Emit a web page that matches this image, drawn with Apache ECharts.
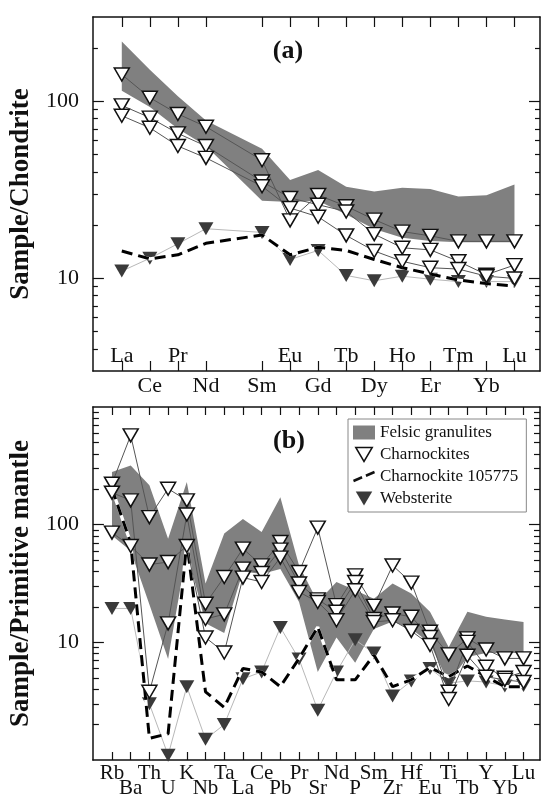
<!DOCTYPE html>
<html>
<head>
<meta charset="utf-8">
<script src="https://cdn.jsdelivr.net/npm/echarts@6/dist/echarts.min.js"></script>
<style>
  html, body { margin: 0; padding: 0; background: #fff; }
  #chart { width: 541px; height: 802px; }
</style>
</head>
<body>
<div id="chart"></div>
<script>
// ---- Data: (a) chondrite-normalised REE ----
const ree = ['La', 'Ce', 'Pr', 'Nd', '', 'Sm', 'Eu', 'Gd', 'Tb', 'Dy', 'Ho', 'Er', 'Tm', 'Yb', 'Lu'];
const reeFelsicUpper = [218, 151, 107, 78, null, 54, 36, 41, 33, 31, 32.5, 32, 29, 29.5, 34];
const reeFelsicLower = [115, 93, 70, 56, null, 27.5, 27, 27.5, 23, 19, 17, 16.3, 16, 16, 16];
const reeCharnA = [142, 105, 85, 72, null, 46.5, 21.3, 29.6, 25.6, 21.5, 18.4, 17.4, 16.2, 16.2, 16.2];
const reeCharnB = [95, 81, 66, 56, null, 35.3, 28.5, 26.1, 23.9, 17.8, 14.9, 14.5, 12.5, 10.5, 11.9];
const reeCharnC = [83, 71, 56, 48, null, 33.2, 25, 22.3, 17.5, 14.3, 12.5, 11.5, 11.3, 10.3, 10.0];
const reeCharn105775 = [14.3, 12.9, 13.6, 15.8, null, 17.6, 13.6, 15.0, 14.4, 12.8, 11.5, 10.6, 9.8, 9.35, 9.05];
const reeWebsterite = [11.0, 13.0, 15.7, 19.1, null, 18.2, 12.8, 14.4, 10.4, 9.7, 10.3, 9.9, 9.6, 9.6, 9.6];

// ---- Data: (b) primitive-mantle-normalised spider ----
const spider = ['Rb', 'Ba', 'Th', 'U', 'K', 'Nb', 'Ta', 'La', 'Ce', 'Pb', 'Pr', 'Sr', 'Nd', 'P', 'Sm', 'Zr', 'Hf', 'Eu', 'Ti', 'Tb', 'Y', 'Yb', 'Lu'];
const spFelsicUpper = [280, 318, 216, 76, 230, 31.6, 84, 112, 86.5, 171, 45, 22, 32.6, 27.7, 23.5, 31.6, 26, 18.2, 9.1, 18.2, 16.5, 15.6, 14.9];
const spFelsicLower = [81, 60, 21, 7.2, 60, 14.5, 12, 40, 38, 42, 22, 5.6, 11, 6.7, 13, 15, 13, 9.8, 4.5, 7.5, 8.1, 8.1, 8.1];
const spCharn1 = [223, 574, 116, 202, 161, 21.3, 35.9, 62.6, 45.1, 71.2, 39.6, 94.3, 20.7, 37.1, 20.4, 45, 32.2, 12.3, 7.9, 10.8, 8.7, 7.3, 7.3];
const spCharn2 = [187, 161, 3.8, 14.5, 122, 15.8, 17.3, 42.3, 38.8, 61.4, 31.6, 23.2, 18.2, 32.6, 15.8, 17.6, 16.5, 11.1, 3.8, 10.1, 6.2, 5.0, 5.6];
const spCharn3 = [85.5, 65.8, 45.8, 48.1, 65.8, 11.0, 8.2, 35.5, 32.6, 52.5, 26.8, 22, 15.4, 27.7, 14.9, 15.4, 12.5, 9.5, 3.3, 7.7, 5.1, 4.8, 4.6];
const spCharn105775 = [202, 70, 1.53, 1.67, 71, 3.8, 2.8, 6.0, 5.6, 4.2, 7.3, 13.5, 4.8, 4.8, 7.8, 4.2, 4.8, 6.1, 5.1, 6.3, 5.1, 4.2, 4.2];
const spWebsterite = [19.4, 19.4, 3.0, 1.1, 4.2, 1.5, 2.0, 4.9, 5.6, 13.4, 7.2, 2.65, 5.6, 10.5, 8.1, 3.5, 4.7, 6.0, 4.5, 4.7, 4.6, 4.25, 4.3];

// ---- Tick values ----
const yLabelsA = [10, 100];
const yMinorA = [4, 5, 6, 7, 8, 9, 20, 30, 40, 50, 60, 70, 80, 90, 200];
const yLabelsB = [10, 100];
const yMinorB = [2, 3, 4, 5, 6, 7, 8, 9, 20, 30, 40, 50, 60, 70, 80, 90, 200, 300, 400, 500, 600, 700, 800, 900];

const FONT = 'Liberation Serif';
const INK = '#111';
const BAND = '#808080';
const TRI = 'path://M0,0L20,0L10,17Z';
const DASH_ICON = 'path://M0,15L9,11L10,13.5L1,17.5Z M13,9.5L22,5.5L23,8L14,12Z';

// [index, value] pairs, skipping missing elements
function pairs(vals) {
    return vals.map((v, i) => (v == null ? null : [i, v])).filter(p => p);
}

function xAxis(grid, names, ext, pos, o) {
    const idx = names.map((n, i) => i).filter(i => names[i] !== '');
    return {
        gridIndex: grid, type: 'value', position: pos, offset: o.offset || 0, min: ext[0], max: ext[1],
        splitLine: { show: false },
        axisLine: { show: !!o.line, onZero: false, lineStyle: { color: INK, width: 1.5 } },
        axisTick: { show: !!o.tick, inside: true, length: o.tick || 0, customValues: idx, lineStyle: { color: INK, width: 1.2 } },
        axisLabel: {
            show: !!o.labels, margin: o.margin || 0, hideOverlap: false,
            customValues: o.labels ? idx.filter(i => i % 2 === o.labels - 1) : undefined,
            formatter: v => names[Math.round(v)],
            fontFamily: FONT, fontSize: o.fontSize, color: INK
        }
    };
}

function yAxis(grid, ext, pos, ticks, len, o) {
    return Object.assign({
        gridIndex: grid, type: 'log', logBase: 10, position: pos, min: ext[0], max: ext[1],
        splitLine: { show: false },
        axisLine: { show: !!o.line, onZero: false, lineStyle: { color: INK, width: 1.5 } },
        axisTick: { show: true, inside: true, length: len, customValues: ticks, lineStyle: { color: INK, width: 1.2 } },
        axisLabel: o.labels ? { customValues: o.labels, margin: 14, fontFamily: FONT, fontSize: 22, color: INK } : { show: false }
    }, o.name ? {
        name: o.name, nameLocation: 'middle', nameGap: 56, nameRotate: 90,
        nameTextStyle: { fontFamily: FONT, fontWeight: 'bold', fontSize: 27, color: INK }
    } : {});
}

// felsic granulite field: polygon between upper and lower envelopes
function bandSeries(xi, yi, upper, lower) {
    return {
        type: 'custom', name: 'Felsic granulites', xAxisIndex: xi, yAxisIndex: yi, silent: true, z: 1,
        itemStyle: { color: BAND },
        data: [[0, 10]],
        renderItem: (params, api) => {
            const top = [], bottom = [];
            upper.forEach((u, i) => { if (u != null) top.push(api.coord([i, u])); });
            lower.forEach((l, i) => { if (l != null) bottom.push(api.coord([i, l])); });
            return { type: 'polygon', shape: { points: top.concat(bottom.reverse()) }, style: { fill: BAND } };
        }
    };
}

function panelSeries(xi, yi, d) {
    const base = { type: 'line', xAxisIndex: xi, yAxisIndex: yi, connectNulls: true, silent: true };
    const list = [
        bandSeries(xi, yi, d.upper, d.lower),
        Object.assign({}, base, { name: 'Websterite', data: pairs(d.webst), symbol: TRI, symbolSize: [15, 13],
            itemStyle: { color: '#3a3a3a' }, lineStyle: { color: '#b8b8b8', width: 1 }, z: 2 }),
        Object.assign({}, base, { name: 'halo' + xi, data: pairs(d.dash), symbol: 'none', lineStyle: { color: '#fff', width: 3.2 }, z: 3 }),
        Object.assign({}, base, { name: 'Charnockite 105775', data: pairs(d.dash), symbol: 'none',
            itemStyle: { color: INK }, lineStyle: { color: '#000', width: 3, type: [11, 6] }, z: 3 })
    ];
    d.charn.forEach(c => {
        list.push(Object.assign({}, base, { name: 'Charnockites', data: pairs(c), symbol: TRI, symbolSize: [15, 13],
            itemStyle: { color: '#fff', borderColor: INK, borderWidth: 1.5 }, lineStyle: { color: '#555', width: 1 }, z: 4 }));
    });
    return list;
}

const A_X = [-1.03, 14.91], A_Y = [3, 300];
const B_X = [-1.02, 22.88], B_Y = [1, 1000];

const chart = echarts.init(document.getElementById('chart'), null, { renderer: 'canvas' });
chart.setOption({
    animation: false,
    backgroundColor: '#fff',
    textStyle: { fontFamily: FONT },
    title: [
        { text: '(a)', left: 288, top: 38, textAlign: 'center', padding: 0, textStyle: { fontFamily: FONT, fontWeight: 'bold', fontSize: 26, color: INK } },
        { text: '(b)', left: 289, top: 428, textAlign: 'center', padding: 0, textStyle: { fontFamily: FONT, fontWeight: 'bold', fontSize: 26, color: INK } }
    ],
    legend: {
        orient: 'vertical', left: 348, top: 419, padding: [5, 8, 5, 5], itemGap: 5,
        itemWidth: 22, itemHeight: 14, selectedMode: false,
        backgroundColor: '#fff', borderColor: '#888', borderWidth: 1,
        textStyle: { fontFamily: FONT, fontSize: 17, color: INK },
        data: [
            { name: 'Felsic granulites', icon: 'rect', itemStyle: { color: BAND, borderWidth: 0 } },
            { name: 'Charnockites', icon: TRI, itemStyle: { color: '#fff', borderColor: INK, borderWidth: 1.5 } },
            { name: 'Charnockite 105775', icon: DASH_ICON, itemStyle: { color: INK, borderWidth: 0 } },
            { name: 'Websterite', icon: TRI, itemStyle: { color: '#3a3a3a', borderWidth: 0 } }
        ]
    },
    grid: [
        { left: 88, right: 1, top: 17, height: 354 },
        { left: 88, right: 1, top: 407, height: 353 }
    ],
    xAxis: [
        xAxis(0, ree, A_X, 'bottom', { line: true, tick: 10 }),
        xAxis(0, ree, A_X, 'bottom', { labels: 1, offset: -27, margin: 1, fontSize: 22 }),
        xAxis(0, ree, A_X, 'bottom', { labels: 2, margin: 4, fontSize: 22 }),
        xAxis(0, ree, A_X, 'top', { line: true, tick: 10 }),
        xAxis(1, spider, B_X, 'bottom', { line: true, tick: 8, labels: 1, margin: 3, fontSize: 21 }),
        xAxis(1, spider, B_X, 'bottom', { labels: 2, margin: 18, fontSize: 21 }),
        xAxis(1, spider, B_X, 'top', { line: true, tick: 8 })
    ],
    yAxis: [
        yAxis(0, A_Y, 'left', yLabelsA, 11, { line: true, labels: yLabelsA, name: 'Sample/Chondrite' }),
        yAxis(0, A_Y, 'left', yMinorA, 5, {}),
        yAxis(0, A_Y, 'right', yLabelsA, 11, { line: true }),
        yAxis(0, A_Y, 'right', yMinorA, 5, {}),
        yAxis(1, B_Y, 'left', yLabelsB, 11, { line: true, labels: yLabelsB, name: 'Sample/Primitive mantle' }),
        yAxis(1, B_Y, 'left', yMinorB, 6, {}),
        yAxis(1, B_Y, 'right', yLabelsB, 11, { line: true }),
        yAxis(1, B_Y, 'right', yMinorB, 6, {})
    ],
    series: [].concat(
        panelSeries(0, 0, { upper: reeFelsicUpper, lower: reeFelsicLower, webst: reeWebsterite, dash: reeCharn105775, charn: [reeCharnA, reeCharnB, reeCharnC] }),
        panelSeries(4, 4, { upper: spFelsicUpper, lower: spFelsicLower, webst: spWebsterite, dash: spCharn105775, charn: [spCharn1, spCharn2, spCharn3] })
    )
});
</script>
</body>
</html>
